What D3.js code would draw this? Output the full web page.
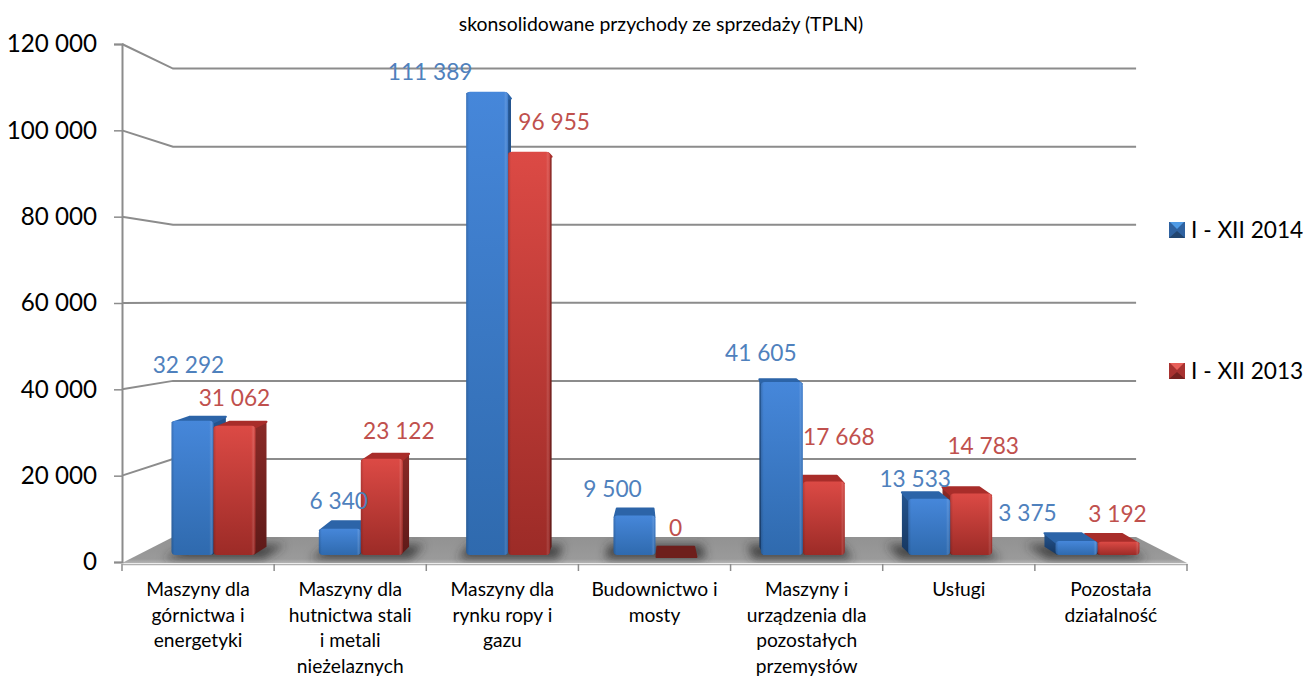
<!DOCTYPE html>
<html>
<head>
<meta charset="utf-8">
<script src="https://cdn.jsdelivr.net/npm/d3@7"></script>
<style>
  html, body { margin: 0; padding: 0; background: #fff; }
  svg { display: block; font-family: Lato, "Open Sans", sans-serif; }
</style>
</head>
<body>
<svg id="chart" width="1305" height="677"></svg>
<script>
const title = "skonsolidowane przychody ze sprzedaży (TPLN)";
const categories = [
  "Maszyny dla\ngórnictwa i\nenergetyki",
  "Maszyny dla\nhutnictwa stali\ni metali\nnieżelaznych",
  "Maszyny dla\nrynku ropy i\ngazu",
  "Budownictwo i\nmosty",
  "Maszyny i\nurządzenia dla\npozostałych\nprzemysłów",
  "Usługi",
  "Pozostała\ndziałalność"
];
const seriesNames = ["I - XII 2014", "I - XII 2013"];
const values2014 = [32292, 6340, 111389, 9500, 41605, 13533, 3375];
const values2013 = [31062, 23122, 96955, 0, 17668, 14783, 3192];
const yTicks = [0, 20000, 40000, 60000, 80000, 100000, 120000];

// label shift from the bar's top centre, the labels were hand placed in the original
const nudge2014 = [[-4, -56], [-1, -28], [-57, -20], [-22, -27], [-21, -29], [-14, -20], [-49, -28]];
const nudge2013 = [[0, -28], [17, -28], [25, -30], [-1, -27], [15, -45], [12, -48], [-1, -28]];

const svg = d3.select("#chart");
const defs = svg.append("defs");

// front plane of the box and the vanishing point of the 3d view
const yFront = d3.scaleLinear().domain([0, 120000]).range([562, 44]);
const xFront = d3.scaleBand().domain(categories).range([122, 1187]);
const vanish = [655, 301];
const wallDepth = 0.0957;
const barDepth = 0.0325;

const project = (x, y, k) => [x + (vanish[0] - x) * k, y + (vanish[1] - y) * k];

// bars stand a bit behind the front plane so they have their own scales
const yBar = d3.scaleLinear().domain([0, 120000]).range([555, 56]);
const xBar = d3.scaleBand().domain(categories).range([139.8, 1171.2]).paddingInner(0.43).paddingOuter(0.215);
const xSeries = d3.scaleBand().domain(seriesNames).range([0, xBar.bandwidth()]);

const fmt = (v) => d3.format(",")(v).replace(/,/g, " ");
const pts = (a) => a.map((p) => p.join(",")).join(" ");

const gradient = (id, stops, vertical = true) => {
  const g = defs.append("linearGradient").attr("id", id)
    .attr("x1", 0).attr("y1", 0).attr("x2", vertical ? 0 : 1).attr("y2", vertical ? 1 : 0);
  stops.forEach(([o, c, a]) => g.append("stop").attr("offset", o).attr("stop-color", c).attr("stop-opacity", a === undefined ? 1 : a));
};
const palette = [
  { label: "#4f81bd", top: "#2c64a8", zero: "#245590", sideA: "#245590", sideB: "#16365f", swatch: "#2f62a0", swatchLow: "#22456f", swatchTop: "#4f9be6" },
  { label: "#c0504d", top: "#a82d2a", zero: "#6e1f1c", sideA: "#8a2a27", sideB: "#5e1a18", swatch: "#a83230", swatchLow: "#74211f", swatchTop: "#e8605a" }
];
gradient("front0", [[0, "#4687da"], [1, "#2f6aae"]]);
gradient("front1", [[0, "#dc4a45"], [1, "#9c2b27"]]);
gradient("side0", [[0, palette[0].sideA], [1, palette[0].sideB]]);
gradient("side1", [[0, palette[1].sideA], [1, palette[1].sideB]]);
gradient("bevel", [[0, "#000", 0.16], [0.07, "#000", 0], [0.9, "#fff", 0], [0.95, "#fff", 0.13], [1, "#000", 0.05]], false);
gradient("floorFill", [[0, "#929292"], [0.85, "#9a9a9a"], [1, "#b4b4b4"]]);

defs.append("filter").attr("id", "blur")
  .attr("filterUnits", "userSpaceOnUse")
  .attr("x", 100).attr("y", 500).attr("width", 1120).attr("height", 100)
  .append("feGaussianBlur").attr("stdDeviation", 5);

// title
svg.append("text")
  .attr("x", 661).attr("y", 31)
  .attr("text-anchor", "middle")
  .attr("font-size", 19.4)
  .attr("fill", "#000")
  .text(title);

// floor
const floor = [
  [xFront.range()[0], yFront(0) + 1],
  project(xFront.range()[0], yFront(0), wallDepth),
  project(xFront.range()[1], yFront(0), wallDepth),
  [xFront.range()[1], yFront(0) + 1]
];
defs.append("clipPath").attr("id", "floorClip").append("polygon").attr("points", pts(floor));
svg.append("polygon").attr("points", pts(floor)).attr("fill", "url(#floorFill)");

// gridlines run along the side wall and then along the back wall
const grid = svg.append("g").attr("class", "grid");
grid.selectAll("polyline")
  .data(yTicks)
  .join("polyline")
  .attr("points", (d) => {
    const a = project(xFront.range()[0], yFront(d), wallDepth);
    const b = project(xFront.range()[1], yFront(d), wallDepth);
    return pts(d === 0 ? [a, b] : [[xFront.range()[0], yFront(d)], a, b]);
  })
  .attr("fill", "none")
  .attr("stroke", (d) => (d === 0 ? "none" : "#8c8c8c"))
  .attr("stroke-width", 2);

// axes
const yAxis = d3.axisLeft(yFront).tickValues(yTicks).tickFormat(fmt).tickSize(8).tickPadding(17);
const yG = svg.append("g").attr("transform", `translate(${xFront.range()[0]},0)`).call(yAxis);
yG.select(".domain").attr("stroke", "#8c8c8c").attr("stroke-width", 2);
yG.selectAll(".tick line").attr("stroke", "#8c8c8c").attr("stroke-width", 1.5);
yG.selectAll(".tick text").attr("font-size", 24.2).attr("font-family", "Lato").attr("fill", "#000");

const xAxis = d3.axisBottom(xFront).tickSize(0).tickFormat("");
const xG = svg.append("g").attr("transform", `translate(0,${yFront(0) + 2})`).call(xAxis);
xG.select(".domain").attr("stroke", "#b0b0b0").attr("stroke-width", 1.5);
xG.selectAll(".sep")
  .data(d3.range(categories.length + 1))
  .join("line")
  .attr("class", "sep")
  .attr("x1", (i) => xFront.range()[0] + i * xFront.step())
  .attr("x2", (i) => xFront.range()[0] + i * xFront.step())
  .attr("y1", 0).attr("y2", 7)
  .attr("stroke", "#8c8c8c").attr("stroke-width", 1.5);

const catLabels = svg.append("g").attr("class", "cat-labels");
categories.forEach((c) => {
  const t = catLabels.append("text")
    .attr("text-anchor", "middle")
    .attr("font-size", 19.2)
    .attr("fill", "#000");
  c.split("\n").forEach((line, i) => {
    t.append("tspan")
      .attr("x", xFront(c) + xFront.bandwidth() / 2)
      .attr("y", 596 + i * 25.5)
      .text(line);
  });
});

// bars, the ones furthest from the view centre go first so nearer ones cover them
const bars = [];
categories.forEach((c, i) => {
  [values2014, values2013].forEach((vals, s) => {
    const left = xBar(c) + xSeries(seriesNames[s]);
    const width = xSeries.bandwidth();
    bars.push({ cat: c, s, i, value: vals[i], left, right: left + width, top: yBar(vals[i]), bottom: yBar(0) });
  });
});
const offCentre = (d) => Math.abs((d.left + d.right) / 2 - vanish[0]);
bars.sort((a, b) => offCentre(b) - offCentre(a));

// soft shadow of each bar pair on the floor
const shadow = svg.append("g").attr("clip-path", "url(#floorClip)").append("g").attr("filter", "url(#blur)");
shadow.selectAll("polygon")
  .data(categories)
  .join("polygon")
  .attr("points", (c) => {
    const l = xBar(c) - 8, r = xBar(c) + xBar.bandwidth() + 8, b = yBar(0) + 4;
    return pts([[l, b], project(l, b, 0.055), project(r, b, 0.055), [r, b]]);
  })
  .attr("fill", "#2e2e2e")
  .attr("opacity", 0.8);

const barG = svg.append("g").attr("class", "bars").selectAll("g")
  .data(bars)
  .join("g");

// side face, whichever side looks to the view centre
barG.append("polygon")
  .attr("points", (d) => {
    const x = d.right < vanish[0] ? d.right - 2 : d.left + 2;
    return pts([[x, d.top], project(x, d.top, barDepth), project(x, d.bottom, barDepth), [x, d.bottom]]);
  })
  .attr("fill", (d) => `url(#side${d.s})`);

barG.append("polygon")
  .attr("points", (d) => pts([
    [d.left + 1, d.top + 2],
    project(d.left + 2, d.top, barDepth),
    project(d.right - 2, d.top, barDepth),
    [d.right - 1, d.top + 2]
  ]))
  .attr("fill", (d) => (d.value === 0 ? palette[d.s].zero : palette[d.s].top))
  .attr("stroke", (d) => (d.value === 0 ? palette[d.s].zero : palette[d.s].top))
  .attr("stroke-width", 2)
  .attr("stroke-linejoin", "round");

barG.filter((d) => d.value > 0).append("rect")
  .attr("x", (d) => d.left).attr("y", (d) => d.top)
  .attr("width", (d) => d.right - d.left).attr("height", (d) => d.bottom - d.top)
  .attr("rx", 4)
  .attr("fill", (d) => `url(#front${d.s})`);
barG.filter((d) => d.value > 0).append("rect")
  .attr("x", (d) => d.left).attr("y", (d) => d.top)
  .attr("width", (d) => d.right - d.left).attr("height", (d) => d.bottom - d.top)
  .attr("rx", 4)
  .attr("fill", "url(#bevel)");

// value labels
const labelData = [];
categories.forEach((c, i) => {
  [[values2014, nudge2014], [values2013, nudge2013]].forEach(([vals, nudge], s) => {
    labelData.push({
      value: vals[i], s,
      x: xBar(c) + xSeries(seriesNames[s]) + xSeries.bandwidth() / 2 + nudge[i][0],
      y: yBar(vals[i]) + nudge[i][1]
    });
  });
});
svg.append("g").attr("class", "value-labels").selectAll("text")
  .data(labelData)
  .join("text")
  .attr("x", (d) => d.x).attr("y", (d) => d.y)
  .attr("dy", "0.36em")
  .attr("text-anchor", "middle")
  .attr("font-size", 22.7)
  .attr("fill", (d) => palette[d.s].label)
  .text((d) => fmt(d.value));

// legend
const legendY = d3.scalePoint().domain(seriesNames).range([230, 371]);
const legend = svg.append("g").selectAll("g")
  .data(seriesNames)
  .join("g")
  .attr("transform", (d) => `translate(1169,${legendY(d)})`);
legend.append("rect").attr("x", 0).attr("y", -8).attr("width", 16).attr("height", 16)
  .attr("fill", (d, i) => palette[i].swatch);
legend.append("polygon").attr("points", "0,8 16,8 8,1")
  .attr("fill", (d, i) => palette[i].swatchLow);
legend.append("polygon").attr("points", "1,-8 15,-8 8,-1")
  .attr("fill", (d, i) => palette[i].swatchTop);
legend.append("text")
  .attr("x", 22).attr("dy", "0.36em")
  .attr("font-size", 22.7)
  .attr("fill", "#000")
  .text((d) => d);
</script>
</body>
</html>
